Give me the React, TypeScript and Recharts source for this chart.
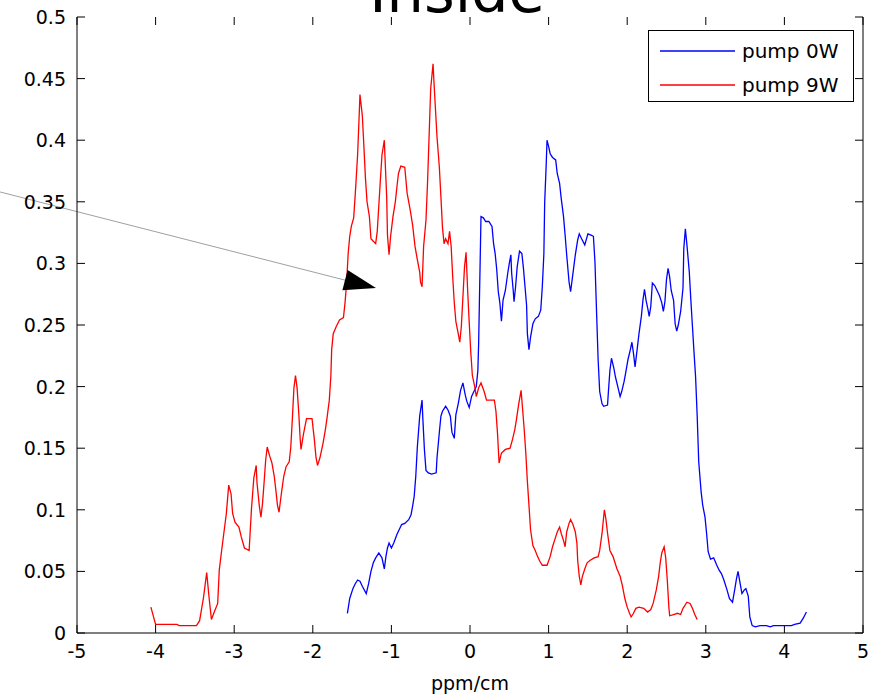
import { Legend, Line, LineChart, ReferenceLine, XAxis, YAxis } from "recharts";

const FONT = "'DejaVu Sans', sans-serif";

const xTicks = [-5, -4, -3, -2, -1, 0, 1, 2, 3, 4, 5];
const yTicks = [0, 0.05, 0.1, 0.15, 0.2, 0.25, 0.3, 0.35, 0.4, 0.45, 0.5];

// pump 0W (blue)
const pump0wX = [
  -1.56, -1.53, -1.49, -1.46, -1.43, -1.4, -1.37, -1.32, -1.29, -1.26, -1.23, -1.2, -1.16, -1.12,
  -1.09, -1.07, -1.05, -1.03, -1.0, -0.97, -0.93, -0.9, -0.87, -0.83, -0.78, -0.75, -0.73, -0.71,
  -0.69, -0.67, -0.64, -0.61, -0.6, -0.58, -0.56, -0.53, -0.49, -0.43, -0.42, -0.39, -0.37, -0.35,
  -0.31, -0.28, -0.25, -0.23, -0.2, -0.18, -0.15, -0.12, -0.09, -0.06, -0.04, -0.01, 0.02, 0.05,
  0.08, 0.1, 0.11, 0.12, 0.13, 0.14, 0.17, 0.2, 0.24, 0.28, 0.3, 0.32, 0.34, 0.36, 0.38, 0.4, 0.42,
  0.45, 0.48, 0.5, 0.52, 0.53, 0.55, 0.56, 0.58, 0.6, 0.63, 0.66, 0.68, 0.7, 0.72, 0.73, 0.75,
  0.77, 0.8, 0.83, 0.87, 0.9, 0.92, 0.94, 0.95, 0.97, 0.98, 1.0, 1.02, 1.05, 1.09, 1.11, 1.14,
  1.16, 1.19, 1.21, 1.23, 1.26, 1.28, 1.3, 1.32, 1.34, 1.37, 1.39, 1.42, 1.46, 1.5, 1.54, 1.57,
  1.59, 1.61, 1.63, 1.65, 1.68, 1.7, 1.75, 1.76, 1.78, 1.8, 1.83, 1.85, 1.88, 1.91, 1.93, 1.96,
  1.98, 2.01, 2.04, 2.06, 2.08, 2.1, 2.13, 2.15, 2.18, 2.2, 2.22, 2.24, 2.26, 2.28, 2.3, 2.32,
  2.35, 2.38, 2.41, 2.44, 2.46, 2.48, 2.5, 2.52, 2.54, 2.56, 2.59, 2.61, 2.63, 2.65, 2.68, 2.71,
  2.72, 2.74, 2.76, 2.79, 2.81, 2.83, 2.85, 2.87, 2.89, 2.91, 2.94, 2.96, 2.99, 3.01, 3.03, 3.06,
  3.1, 3.14, 3.17, 3.2, 3.23, 3.27, 3.3, 3.34, 3.37, 3.39, 3.41, 3.44, 3.46, 3.49, 3.51, 3.54,
  3.56, 3.59, 3.63, 3.69, 3.77, 3.82, 3.86, 3.99, 4.09, 4.13, 4.2, 4.24, 4.28,
];
const pump0wY = [
  0.016, 0.028, 0.036, 0.04, 0.043, 0.042, 0.038, 0.032, 0.04, 0.05, 0.057, 0.061, 0.065, 0.061,
  0.052, 0.062, 0.069, 0.073, 0.069, 0.073, 0.08, 0.084, 0.088, 0.089, 0.092, 0.096, 0.103, 0.111,
  0.127, 0.151, 0.176, 0.189, 0.174, 0.149, 0.132, 0.13, 0.129, 0.13, 0.142, 0.163, 0.176, 0.18,
  0.184, 0.181, 0.176, 0.163, 0.158, 0.177, 0.186, 0.197, 0.203, 0.193, 0.188, 0.183, 0.192, 0.196,
  0.2, 0.213, 0.235, 0.27, 0.304, 0.338, 0.337, 0.334, 0.334, 0.33, 0.316, 0.308, 0.295, 0.277,
  0.268, 0.253, 0.27, 0.278, 0.292, 0.3, 0.307, 0.292, 0.278, 0.269, 0.281, 0.297, 0.31, 0.308,
  0.296, 0.281, 0.266, 0.243, 0.23, 0.24, 0.251, 0.255, 0.257, 0.262, 0.281, 0.308, 0.349, 0.381,
  0.4, 0.395, 0.389, 0.386, 0.384, 0.373, 0.365, 0.353, 0.338, 0.323, 0.307, 0.285, 0.277, 0.287,
  0.297, 0.307, 0.319, 0.324, 0.32, 0.315, 0.324, 0.323, 0.322, 0.301, 0.261, 0.222, 0.196, 0.186,
  0.184, 0.185, 0.195, 0.213, 0.223, 0.215, 0.208, 0.2, 0.192, 0.196, 0.204, 0.211, 0.222, 0.23,
  0.236, 0.227, 0.216, 0.232, 0.243, 0.257, 0.27, 0.279, 0.27, 0.264, 0.257, 0.265, 0.284, 0.282,
  0.278, 0.274, 0.268, 0.261, 0.269, 0.287, 0.296, 0.289, 0.278, 0.27, 0.251, 0.245, 0.25, 0.261,
  0.28, 0.312, 0.328, 0.315, 0.293, 0.27, 0.249, 0.228, 0.208, 0.177, 0.139, 0.115, 0.104, 0.094,
  0.081, 0.066, 0.06, 0.061, 0.055, 0.051, 0.048, 0.043, 0.035, 0.028, 0.025, 0.036, 0.044, 0.05,
  0.039, 0.032, 0.035, 0.036, 0.03, 0.013, 0.006, 0.005, 0.006, 0.006, 0.005, 0.006, 0.006, 0.006,
  0.007, 0.008, 0.012, 0.017,
];

// pump 9W (red)
const pump9wX = [
  -4.06, -4.0, -3.73, -3.7, -3.48, -3.44, -3.39, -3.35, -3.32, -3.29, -3.26, -3.21, -3.19, -3.16,
  -3.13, -3.1, -3.07, -3.04, -3.02, -2.99, -2.94, -2.91, -2.87, -2.81, -2.78, -2.75, -2.72, -2.71,
  -2.68, -2.66, -2.64, -2.62, -2.6, -2.58, -2.55, -2.52, -2.49, -2.47, -2.45, -2.43, -2.4, -2.37,
  -2.34, -2.3, -2.28, -2.26, -2.24, -2.22, -2.2, -2.18, -2.16, -2.15, -2.12, -2.08, -2.01, -1.98,
  -1.96, -1.94, -1.91, -1.87, -1.84, -1.82, -1.79, -1.77, -1.76, -1.74, -1.7, -1.66, -1.61, -1.59,
  -1.57, -1.55, -1.53, -1.51, -1.48, -1.46, -1.43, -1.41, -1.4, -1.37, -1.35, -1.33, -1.31, -1.28,
  -1.26, -1.23, -1.2, -1.18, -1.16, -1.14, -1.12, -1.09, -1.08, -1.06, -1.05, -1.03, -1.01, -0.98,
  -0.95, -0.93, -0.91, -0.88, -0.83, -0.8, -0.76, -0.73, -0.7, -0.67, -0.64, -0.63, -0.61, -0.59,
  -0.56, -0.54, -0.52, -0.5, -0.47, -0.46, -0.44, -0.42, -0.39, -0.37, -0.35, -0.33, -0.31, -0.28,
  -0.26, -0.24, -0.22, -0.2, -0.18, -0.15, -0.13, -0.11, -0.09, -0.07, -0.05, -0.03, -0.01, 0.01,
  0.03, 0.06, 0.08, 0.11, 0.14, 0.18, 0.21, 0.31, 0.33, 0.35, 0.37, 0.4, 0.45, 0.51, 0.54, 0.57,
  0.59, 0.62, 0.65, 0.67, 0.69, 0.71, 0.73, 0.75, 0.77, 0.8, 0.83, 0.86, 0.89, 0.92, 0.98, 1.02,
  1.05, 1.08, 1.11, 1.14, 1.16, 1.19, 1.21, 1.23, 1.26, 1.28, 1.31, 1.34, 1.36, 1.37, 1.39, 1.41,
  1.43, 1.46, 1.49, 1.53, 1.58, 1.63, 1.65, 1.68, 1.7, 1.71, 1.73, 1.75, 1.78, 1.82, 1.84, 1.87,
  1.91, 1.94, 1.97, 2.0, 2.03, 2.05, 2.08, 2.11, 2.15, 2.21, 2.26, 2.3, 2.33, 2.37, 2.4, 2.42,
  2.44, 2.47, 2.49, 2.51, 2.53, 2.54, 2.59, 2.64, 2.68, 2.71, 2.76, 2.8, 2.83, 2.86, 2.89,
];
const pump9wY = [
  0.021, 0.007, 0.007, 0.006, 0.006, 0.01, 0.029, 0.049, 0.029, 0.011, 0.016, 0.024, 0.051, 0.067,
  0.082, 0.097, 0.12, 0.113, 0.097, 0.09, 0.086, 0.078, 0.069, 0.067, 0.101, 0.126, 0.136, 0.122,
  0.103, 0.094, 0.105, 0.122, 0.14, 0.151, 0.144, 0.138, 0.127, 0.116, 0.104, 0.098, 0.113, 0.127,
  0.135, 0.139, 0.151, 0.174, 0.199, 0.209, 0.199, 0.18, 0.157, 0.149, 0.161, 0.174, 0.174, 0.157,
  0.143, 0.136, 0.142, 0.154, 0.165, 0.174, 0.189, 0.209, 0.23, 0.243, 0.249, 0.254, 0.256, 0.268,
  0.284, 0.308, 0.322, 0.33, 0.337, 0.356, 0.388, 0.42, 0.437, 0.42, 0.395, 0.369, 0.35, 0.338,
  0.32, 0.318, 0.316, 0.326, 0.347, 0.368, 0.388, 0.4, 0.384, 0.354, 0.323, 0.307, 0.322, 0.338,
  0.35, 0.362, 0.373, 0.379, 0.378, 0.357, 0.343, 0.331, 0.314, 0.303, 0.293, 0.285, 0.281, 0.314,
  0.335, 0.366, 0.404, 0.442, 0.462, 0.449, 0.426, 0.403, 0.378, 0.354, 0.329, 0.316, 0.32, 0.316,
  0.326, 0.314, 0.289, 0.268, 0.253, 0.243, 0.236, 0.249, 0.273, 0.297, 0.309, 0.278, 0.252, 0.228,
  0.209, 0.2, 0.192, 0.199, 0.203, 0.196, 0.189, 0.189, 0.18, 0.162, 0.138, 0.146, 0.149, 0.15,
  0.157, 0.165, 0.173, 0.186, 0.197, 0.181, 0.165, 0.146, 0.123, 0.104, 0.084, 0.071, 0.067, 0.062,
  0.058, 0.055, 0.055, 0.062, 0.07, 0.076, 0.082, 0.086, 0.081, 0.075, 0.07, 0.082, 0.089, 0.092,
  0.088, 0.082, 0.073, 0.059, 0.046, 0.039, 0.046, 0.052, 0.057, 0.059, 0.061, 0.062, 0.067, 0.081,
  0.094, 0.1, 0.092, 0.081, 0.067, 0.062, 0.058, 0.052, 0.046, 0.038, 0.028, 0.021, 0.016, 0.013,
  0.016, 0.02, 0.021, 0.02, 0.017, 0.019, 0.024, 0.035, 0.046, 0.057, 0.065, 0.07, 0.061, 0.043,
  0.021, 0.014, 0.015, 0.016, 0.015, 0.02, 0.025, 0.024, 0.02, 0.015, 0.011,
];

// arrow annotation, from outside the axes to its tip
const arrowFrom = { x: -5.98, y: 0.358 };
const arrowTo = { x: -1.196, y: 0.28 };

const pump0w = pump0wX.map((x, i) => ({ x, y: pump0wY[i] }));
const pump9w = pump9wX.map((x, i) => ({ x, y: pump9wY[i] }));

const TICK_LEN = 8;

function BottomTick(props: any) {
  const { x, y, payload } = props;
  return (
    <text x={x} y={y + 25} textAnchor="middle" fontSize={19} fontFamily={FONT} fill="#000">
      {payload.value}
    </text>
  );
}

function LeftTick(props: any) {
  const { x, y, payload } = props;
  return (
    <text x={x - 11} y={y + 7} textAnchor="end" fontSize={19} fontFamily={FONT} fill="#000">
      {payload.value}
    </text>
  );
}

// MATLAB-style inward tick marks at both ends of a vertical reference line
function XTickMarks(props: any) {
  const { x1, y1, x2, y2 } = props;
  const d = y2 > y1 ? 1 : -1;
  return (
    <g>
      <line x1={x1} y1={y1} x2={x1} y2={y1 + d * TICK_LEN} stroke="#000" strokeWidth={1} />
      <line x1={x2} y1={y2} x2={x2} y2={y2 - d * TICK_LEN} stroke="#000" strokeWidth={1} />
    </g>
  );
}

// same, for a horizontal reference line (left and right edges)
function YTickMarks(props: any) {
  const { x1, y1, x2, y2 } = props;
  const d = x2 > x1 ? 1 : -1;
  return (
    <g>
      <line x1={x1} y1={y1} x2={x1 + d * TICK_LEN} y2={y1} stroke="#000" strokeWidth={1} />
      <line x1={x2} y1={y2} x2={x2 - d * TICK_LEN} y2={y2} stroke="#000" strokeWidth={1} />
    </g>
  );
}

function Arrow(props: any) {
  const { x1, y1, x2, y2 } = props;
  const dx = x2 - x1;
  const dy = y2 - y1;
  const len = Math.sqrt(dx * dx + dy * dy);
  const ux = dx / len;
  const uy = dy / len;
  const bx = x2 - ux * 32;
  const by = y2 - uy * 32;
  const px = -uy * 10.5;
  const py = ux * 10.5;
  return (
    <g>
      <line x1={x1} y1={y1} x2={bx} y2={by} stroke="#a0a0a0" strokeWidth={1} />
      <polygon
        points={`${x2},${y2} ${bx + px},${by + py} ${bx - px},${by - py}`}
        fill="#000"
      />
    </g>
  );
}

function LegendBox(props: any) {
  const { payload } = props;
  return (
    <div
      style={{
        border: "1px solid #000",
        background: "#fff",
        width: 206,
        height: 72,
        paddingTop: 3,
        boxSizing: "border-box",
        fontFamily: FONT,
        fontSize: 20,
        color: "#000",
      }}
    >
      {(payload || []).map((entry: any) => (
        <div key={entry.value} style={{ display: "flex", alignItems: "center", height: 34 }}>
          <svg width={87} height={34} style={{ display: "block" }}>
            <line x1={11} y1={17} x2={86} y2={17} stroke={entry.color} strokeWidth={1.5} />
          </svg>
          <span style={{ marginLeft: 6, lineHeight: "34px" }}>{entry.value}</span>
        </div>
      ))}
    </div>
  );
}

export default function App() {
  return (
    <div
      style={{
        position: "absolute",
        left: 0,
        top: 0,
        width: 878,
        height: 697,
        background: "#fff",
        overflow: "hidden",
      }}
    >
      <svg
        width={878}
        height={697}
        style={{ position: "absolute", left: 0, top: 0, pointerEvents: "none" }}
      >
        <text x={457} y={12} textAnchor="middle" fontSize={59} fontFamily={FONT} fill="#000">
          Inside
        </text>
      </svg>
      <div style={{ position: "absolute", left: 0, top: 0 }}>
        <LineChart width={878} height={697} margin={{ top: 17, right: 0, bottom: 0, left: 0 }}>
          <XAxis
            xAxisId="bottom"
            dataKey="x"
            type="number"
            domain={[-5, 5]}
            ticks={xTicks}
            interval={0}
            height={64}
            tickSize={0}
            tickMargin={0}
            tickLine={false}
            axisLine={{ stroke: "#000" }}
            tick={<BottomTick />}
          />
          <XAxis
            xAxisId="top"
            orientation="top"
            dataKey="x"
            type="number"
            domain={[-5, 5]}
            height={0}
            tickLine={false}
            axisLine={{ stroke: "#000" }}
            tick={false}
          />
          <YAxis
            yAxisId="left"
            type="number"
            domain={[0, 0.5]}
            ticks={yTicks}
            interval={0}
            width={77}
            tickSize={0}
            tickMargin={0}
            tickLine={false}
            axisLine={{ stroke: "#000" }}
            tick={<LeftTick />}
          />
          <YAxis
            yAxisId="right"
            orientation="right"
            type="number"
            domain={[0, 0.5]}
            width={15}
            tickLine={false}
            axisLine={{ stroke: "#000" }}
            tick={false}
          />
          {xTicks.map((v) => (
            <ReferenceLine
              key={`xt${v}`}
              xAxisId="bottom"
              yAxisId="left"
              x={v}
              shape={XTickMarks}
            />
          ))}
          {yTicks.map((v) => (
            <ReferenceLine
              key={`yt${v}`}
              xAxisId="bottom"
              yAxisId="left"
              y={v}
              shape={YTickMarks}
            />
          ))}
          <Line
            xAxisId="bottom"
            yAxisId="left"
            data={pump0w}
            dataKey="y"
            name="pump 0W"
            type="linear"
            stroke="#0000ff"
            strokeWidth={1.3}
            dot={false}
            isAnimationActive={false}
          />
          <Line
            xAxisId="bottom"
            yAxisId="left"
            data={pump9w}
            dataKey="y"
            name="pump 9W"
            type="linear"
            stroke="#ff0000"
            strokeWidth={1.3}
            dot={false}
            isAnimationActive={false}
          />
          <ReferenceLine
            xAxisId="bottom"
            yAxisId="left"
            segment={[arrowFrom, arrowTo]}
            ifOverflow="visible"
            shape={Arrow}
          />
          <Legend
            layout="vertical"
            align="center"
            verticalAlign="middle"
            content={<LegendBox />}
            wrapperStyle={{ position: "absolute", left: 648, top: 30, width: 206, height: 72 }}
          />
        </LineChart>
      </div>
      <div
        style={{
          position: "absolute",
          left: 0,
          width: 940,
          top: 672,
          textAlign: "center",
          fontFamily: FONT,
          fontSize: 19,
          color: "#000",
        }}
      >
        ppm/cm
      </div>
    </div>
  );
}
